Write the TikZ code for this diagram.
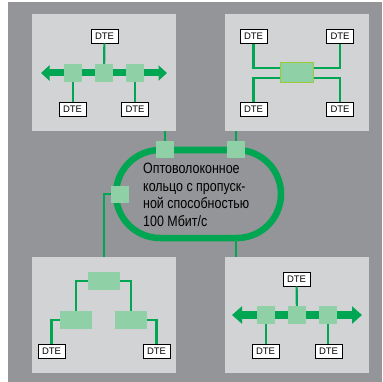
\documentclass[tikz,border=0pt]{standalone}
\usepackage{fontspec}
\setmainfont{Liberation Sans}
\newfontfamily\ringfont[FakeStretch=0.83]{Liberation Sans}
\usetikzlibrary{arrows.meta,positioning,calc}
\definecolor{bggray}{HTML}{939598}
\definecolor{panelgray}{HTML}{D1D3D4}
\definecolor{ringgreen}{HTML}{00A651}
\definecolor{hubgreen}{HTML}{8FD0A6}
\definecolor{boxgreen}{HTML}{9ACA3C}

\begin{document}
\begin{tikzpicture}[x=1pt,y=-1pt,
   panel/.style={fill=panelgray,minimum width=144pt,minimum height=117pt,inner sep=0pt},
   dte/.style={draw=black,fill=white,line width=0.8pt,minimum width=27pt,minimum height=14pt,inner sep=0pt,font=\fontsize{9.5}{10}\selectfont},
   hub/.style={fill=hubgreen,minimum width=18pt,minimum height=18pt,inner sep=0pt},
   twig/.style={fill=hubgreen,minimum width=32pt,minimum height=18pt,inner sep=0pt},
   link/.style={draw=ringgreen,line width=2.2pt},
   bus/.style={draw=ringgreen,line width=7pt,{Triangle[width=15pt,length=8.5pt]}-{Triangle[width=15pt,length=8.5pt]}},
   ringtxt/.style={align=left,inner sep=0pt,font={\ringfont\fontsize{15}{17.9}\selectfont}}]

  % ---- background ----
  \useasboundingbox (0,0) rectangle (382,382);
  \fill[white] (0,0) rectangle (382,382);
  \fill[bggray] (8,2) rectangle (382,382);

  % ---- panels ----
  \node[panel] (tl) at (104,72.5) {};
  \node[panel] (tr) at (297,72.5) {};
  \node[panel,minimum height=116pt] (bl) at (104,315) {};
  \node[panel,minimum height=116pt] (br) at (297,315) {};

  % ---- ring ----
  \node[draw=ringgreen,line width=6.5pt,rounded corners=44pt,minimum width=165pt,minimum height=88pt] (ring) at (198.5,194) {};
  \node[hub,minimum height=17pt] (rs1) at (165,149.5) {};
  \node[hub,minimum height=17pt] (rs2) at (236,149.5) {};
  \node[hub,minimum height=17pt] (rs3) at (120,194) {};
  \node[ringtxt,anchor=north west] (label) at (143,162.5) {Оптоволоконное\\кольцо с пропуск-\\ной способностью\\100 Мбит/с};
  % ring to panels
  \draw[link] (rs1) -- (rs1 |- tl.south);
  \draw[link] (rs2) -- (rs2 |- tr.south);
  \draw[link] (rs3.west) -| (bl.north);
  \draw[link] (rs2 |- ring.south) -- (rs2 |- br.north);

  % ---- top left: bus ----
  \coordinate (tlL) at (41,73);
  \coordinate (tlR) at (167,73);
  \draw[bus] (tlL) -- (tlR);
  \foreach \n/\x in {a/73,b/104,c/135}{\node[hub] (tl\n) at (\x,73) {};}
  \node[dte] (tld1) at (104.5,36) {DTE};
  \node[dte] (tld2) at (72.5,109) {DTE};
  \node[dte] (tld3) at (135,109) {DTE};
  \draw[link] (tld1) -- (tlb);
  \draw[link] (tla) -- (tla |- tld2.north);
  \draw[link] (tlc) -- (tlc |- tld3.north);

  % ---- top right: star ----
  \node[hub,draw=boxgreen,line width=1.5pt,minimum width=33pt,minimum height=20pt] (sw) at (297,72.5) {};
  \node[dte] (trd1) at (253.5,36.5) {DTE};
  \node[dte] (trd2) at (340,36.5) {DTE};
  \node[dte] (trd3) at (253.5,109) {DTE};
  \node[dte] (trd4) at (340,109) {DTE};
  \draw[link] (trd1.south) |- ($(sw.west)+(0,-4.5)$);
  \draw[link] (trd2.south) |- ($(sw.east)+(0,-4.5)$);
  \draw[link] ($(sw.west)+(0,5.5)$) -| (trd3.north);
  \draw[link] ($(sw.east)+(0,5.5)$) -| (trd4.north);

  % ---- bottom left: tree ----
  \node[twig] (bt) at (104,281) {};
  \node[twig] (bll) at (76,320) {};
  \node[twig] (blr) at (131,320) {};
  \node[dte] (bld1) at (51.5,351) {DTE};
  \node[dte] (bld2) at (156.5,351) {DTE};
  \draw[link] (bt.west) -| (bll.north);
  \draw[link] (bt.east) -| (blr.north);
  \draw[link] (bll.west) -| (bld1.north);
  \draw[link] (blr.east) -| (bld2.north);

  % ---- bottom right: bus ----
  \coordinate (brL) at (232,315);
  \coordinate (brR) at (362,315);
  \draw[bus,line width=8pt,{Triangle[width=17pt,length=10pt]}-{Triangle[width=17pt,length=10pt]}] (brL) -- (brR);
  \foreach \n/\x in {a/266,b/297,c/328}{\node[hub] (br\n) at (\x,315) {};}
  \node[dte] (brd1) at (296.5,279) {DTE};
  \node[dte] (brd2) at (265.5,351) {DTE};
  \node[dte] (brd3) at (328.5,351) {DTE};
  \draw[link] (brd1) -- (brb);
  \draw[link] (bra) -- (bra |- brd2.north);
  \draw[link] (brc) -- (brc |- brd3.north);
\end{tikzpicture}
\end{document}
